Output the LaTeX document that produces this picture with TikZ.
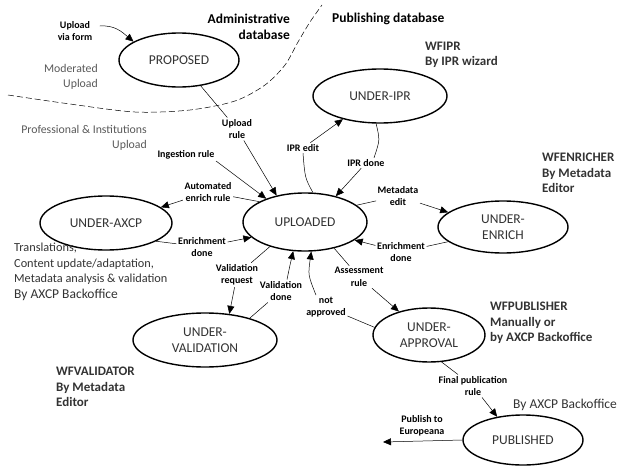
\documentclass[tikz,border=0pt]{standalone}
\usepackage{fontspec}
\setmainfont{Carlito}
\usetikzlibrary{shapes.geometric,arrows.meta}
\begin{document}
\begin{tikzpicture}[x=1pt,y=-1pt,
  state/.style={ellipse,draw,line width=1.4pt,inner sep=0pt,align=center,
    font=\fontsize{13.5}{16}\selectfont,text=black!80},
  lbl/.style={font=\bfseries\fontsize{10}{12.5}\selectfont,align=center,inner sep=1.5pt},
  conn/.style={line width=0.5pt},
  arr/.style={conn,-{Triangle[length=8pt,width=7pt]}},
  note/.style={font=\fontsize{11.8}{14.5}\selectfont,text=black!65,inner sep=0pt},
  wf/.style={font=\bfseries\fontsize{13}{15.5}\selectfont,text=black!80,align=left,anchor=west,inner sep=0pt},
  dbtitle/.style={font=\bfseries\fontsize{13.5}{16}\selectfont,inner sep=0pt},
  desc/.style={font=\fontsize{12.3}{15.5}\selectfont,text=black!80,align=left,anchor=west,inner sep=0pt}
]
\useasboundingbox (0,0) rectangle (619,466);

% boundary between databases
\draw[line width=0.5pt,dash pattern=on 6pt off 3pt] plot[smooth] coordinates
  {(8,95) (70,104) (135,112) (190,110) (235,101) (265,85) (285,65) (298,42) (310,22) (322,5)};

% states
\node[state,minimum width=120pt,minimum height=54pt] (prop) at (179,60) {PROPOSED};
\node[state,minimum width=134pt,minimum height=54pt] (ipr) at (380,96) {UNDER-IPR};
\node[state,minimum width=124pt,minimum height=58pt] (upl) at (305,222) {UPLOADED};
\node[state,minimum width=132pt,minimum height=54pt] (axcp) at (106,223) {UNDER-AXCP};
\node[state,minimum width=130pt,minimum height=52pt] (enr) at (503,227) {UNDER-\\ENRICH};
\node[state,minimum width=144pt,minimum height=54pt] (val) at (205,340) {UNDER-\\VALIDATION};
\node[state,minimum width=112pt,minimum height=54pt] (appr) at (429,335) {UNDER-\\APPROVAL};
\node[state,minimum width=120pt,minimum height=50pt] (pub) at (523,440) {PUBLISHED};

% free texts
\node[dbtitle,align=right,anchor=east] (admdb) at (290,27) {Administrative\\database};
\node[dbtitle,anchor=west] (pubdb) at (332,19) {Publishing database};
\node[note,align=right,anchor=east] (modup) at (98,77) {Moderated\\Upload};
\node[note,align=right,anchor=east] (profup) at (147,138) {Professional \& Institutions\\Upload};
\node[wf] (wfipr) at (425,55) {WFIPR\\By IPR wizard};
\node[wf] (wfenr) at (542,173) {WFENRICHER\\By Metadata\\Editor};
\node[wf] (wfpub) at (490,323) {WFPUBLISHER\\Manually or\\by AXCP Backoffice};
\node[wf] (wfval) at (56,387) {WFVALIDATOR\\By Metadata\\Editor};
\node[desc] (axcpdesc) at (14,272) {Translations,\\Content update/adaptation,\\Metadata analysis \& validation\\{\fontsize{13.5}{16}\selectfont By AXCP Backoffice}};
\node[font=\fontsize{13.5}{16}\selectfont,text=black!80,anchor=west,inner sep=0pt] (pubby) at (513,405) {By AXCP Backoffice};

% labels
\node[lbl] (uvf) at (75,31) {Upload\\via form};
\node[lbl] (ur) at (237,129) {Upload\\rule};
\node[lbl] (ir) at (186,155) {Ingestion rule};
\node[lbl] (aer) at (208,192) {Automated\\enrich rule};
\node[lbl] (ie) at (303,148) {IPR edit};
\node[lbl] (id) at (366,163) {IPR done};
\node[lbl] (me) at (398,196) {Metadata\\edit};
\node[lbl] (edl) at (202,247) {Enrichment\\done};
\node[lbl] (edr) at (401,252) {Enrichment\\done};
\node[lbl] (vr) at (237,275) {Validation\\request};
\node[lbl] (vd) at (281,291) {Validation\\done};
\node[lbl] (ar) at (359,277) {Assessment\\rule};
\node[lbl] (na) at (326,307) {not\\approved};
\node[lbl] (fpr) at (473,386) {Final publication\\rule};
\node[lbl] (pte) at (422,426) {Publish to\\Europeana};
\coordinate (eu) at (383,442);

% connectors
\draw[arr] ([shift={(6,-5)}]uvf.east) .. controls (115,25) and (122,32) .. (prop.158);
\draw[conn] (prop.-50) -- (ur);
\draw[arr] (ur) -- (upl.137);
\draw[arr] (ir.south east) -- (upl.149);
\draw[conn] (upl.156) -- (aer);
\draw[arr] (aer) -- (axcp.16);
\draw[conn] (upl.75) .. controls (305,178) .. (ie.south);
\draw[arr] (ie) -- (ipr.212);
\draw[conn] (ipr.262) .. controls (380,140) .. ([xshift=8pt]id.north);
\draw[arr] (id) -- (upl.40);
\draw[conn] (upl.18) -- (me);
\draw[arr] (me) -- (enr.165);
\draw[conn] (enr.195) -- (edr);
\draw[arr] (edr) -- (upl.-20);
\draw[conn] (axcp.-20) -- (edl);
\draw[arr] (edl) -- (upl.-164);
\draw[conn] (upl.-145) -- (vr);
\draw[arr] (vr) -- (val.47);
\draw[conn] (val.26) -- (vd);
\draw[arr] ([xshift=6pt]vd.north) .. controls (290,265) .. (upl.-112);
\draw[conn] (upl.-42) -- (ar);
\draw[arr] (ar) -- (appr.142);
\draw[conn] (appr.172) -- (na);
\draw[arr] ([xshift=-10pt]na.north) .. controls (308,275) .. (upl.-78);
\draw[conn] (appr.-65) -- (fpr);
\draw[arr] (fpr) -- (pub.138);
\draw[arr] (pub.west) -- (eu);
\end{tikzpicture}
\end{document}
